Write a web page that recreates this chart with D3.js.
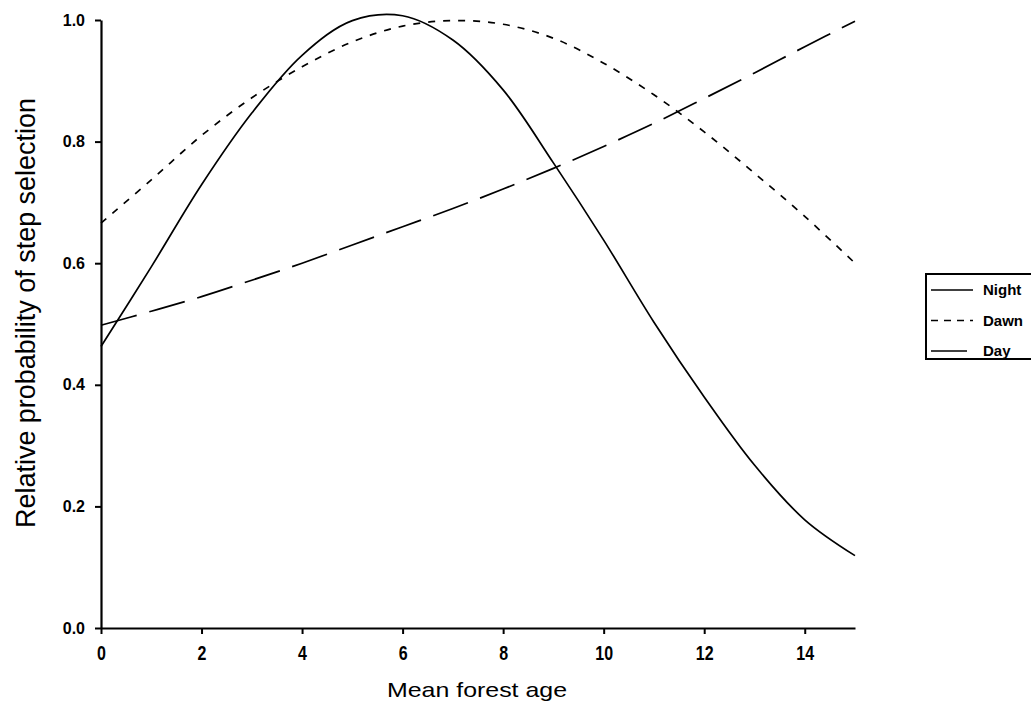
<!DOCTYPE html>
<html>
<head>
<meta charset="utf-8">
<script src="https://cdn.jsdelivr.net/npm/d3@7"></script>
<style>
  body { margin: 0; background: #fff; }
  .tick text { font-family: "Liberation Sans", Arial, sans-serif; font-weight: bold; }
</style>
</head>
<body>
<div id="chart"></div>
<script>
// forest age values (x)
var ages = [0, 1, 2, 3, 4, 5, 6, 7, 8, 9, 10, 11, 12, 13, 14, 15];

// relative probability for each period
var night = [0.463, 0.594, 0.729, 0.847, 0.942, 0.999, 1.007, 0.967, 0.885, 0.765, 0.638, 0.503, 0.380, 0.268, 0.178, 0.119];
var dawn = [0.666, 0.737, 0.810, 0.872, 0.923, 0.964, 0.990, 0.999, 0.993, 0.970, 0.929, 0.877, 0.816, 0.748, 0.677, 0.600];
var day = [0.498, 0.521, 0.545, 0.572, 0.600, 0.630, 0.660, 0.690, 0.722, 0.756, 0.792, 0.830, 0.871, 0.913, 0.956, 0.998];

// tick values
var xTicks = [0, 2, 4, 6, 8, 10, 12, 14];
var yTicks = [0, 0.2, 0.4, 0.6, 0.8, 1.0];

// legend labels
var seriesNames = ["Night", "Dawn", "Day"];

var width = 1031;
var height = 709;

var svg = d3
    .select("#chart")
    .append("svg")
    .attr("width", width)
    .attr("height", height);

svg.append("rect")
    .attr("width", width)
    .attr("height", height)
    .attr("fill", "#fff");

// plot area edges
var plotLeft = 101, plotRight = 855, plotTop = 20, plotBottom = 628;

var x = d3.scaleLinear().domain([0, 15]).range([plotLeft, plotRight]);
var y = d3.scaleLinear().domain([0, 1]).range([plotBottom, plotTop]);

// x axis
var xAxis = svg.append("g")
    .attr("transform", "translate(0," + plotBottom + ")")
    .call(d3.axisBottom(x).tickValues(xTicks).tickSize(6).tickPadding(12).tickSizeOuter(0));

xAxis.selectAll("text")
    .attr("font-size", 20)
    .attr("transform", "scale(0.8,1)");

// y axis
var yAxis = svg.append("g")
    .attr("transform", "translate(" + plotLeft + ",0)")
    .call(d3.axisLeft(y).tickValues(yTicks).tickSize(6).tickPadding(10).tickSizeOuter(0)
        .tickFormat(d3.format(".1f")));

yAxis.selectAll("text").attr("font-size", 16);

// thicker axis lines like the original
svg.selectAll(".domain").attr("stroke", "#000").attr("stroke-width", 2.2);
svg.selectAll(".tick line").attr("stroke", "#000").attr("stroke-width", 2);

// axis titles
svg.append("text")
    .attr("x", 477)
    .attr("y", 697)
    .attr("text-anchor", "middle")
    .attr("font-family", "Liberation Sans, Arial, sans-serif")
    .attr("font-size", 21)
    .attr("textLength", 180)
    .attr("lengthAdjust", "spacingAndGlyphs")
    .text("Mean forest age");

svg.append("text")
    .attr("transform", "translate(35,313)rotate(-90)")
    .attr("text-anchor", "middle")
    .attr("font-family", "Liberation Sans, Arial, sans-serif")
    .attr("font-size", 27)
    .attr("textLength", 430)
    .attr("lengthAdjust", "spacingAndGlyphs")
    .text("Relative probability of step selection");

// dash style for each series
var dashes = [null, "7,8", "37,13"];
var allSeries = [night, dawn, day];

var line = d3.line()
    .x(function(d) { return x(d[0]); })
    .y(function(d) { return y(d[1]); })
    .curve(d3.curveCatmullRom.alpha(0.5));

allSeries.forEach(function(vals, i) {
    var pts = ages.map(function(a, j) { return [a, vals[j]]; });
    svg.append("path")
        .datum(pts)
        .attr("d", line)
        .attr("fill", "none")
        .attr("stroke", "#000")
        .attr("stroke-width", 1.7)
        .attr("stroke-dasharray", dashes[i]);
});

// legend box (runs off the right edge)
svg.append("rect")
    .attr("x", 926)
    .attr("y", 274)
    .attr("width", 130)
    .attr("height", 85)
    .attr("fill", "none")
    .attr("stroke", "#000")
    .attr("stroke-width", 2);

var legendDash = [null, "7,6", null];
var legendEnd = [973, 973, 967];
seriesNames.forEach(function(name, i) {
    var ly = 290 + i * 30.5;
    svg.append("line")
        .attr("x1", 931)
        .attr("x2", legendEnd[i])
        .attr("y1", ly)
        .attr("y2", ly)
        .attr("stroke", "#000")
        .attr("stroke-width", 1.7)
        .attr("stroke-dasharray", legendDash[i]);
    svg.append("text")
        .attr("x", 983)
        .attr("y", ly + 5)
        .attr("font-family", "Liberation Sans, Arial, sans-serif")
        .attr("font-weight", "bold")
        .attr("font-size", 15)
        .text(name);
});
</script>
</body>
</html>
